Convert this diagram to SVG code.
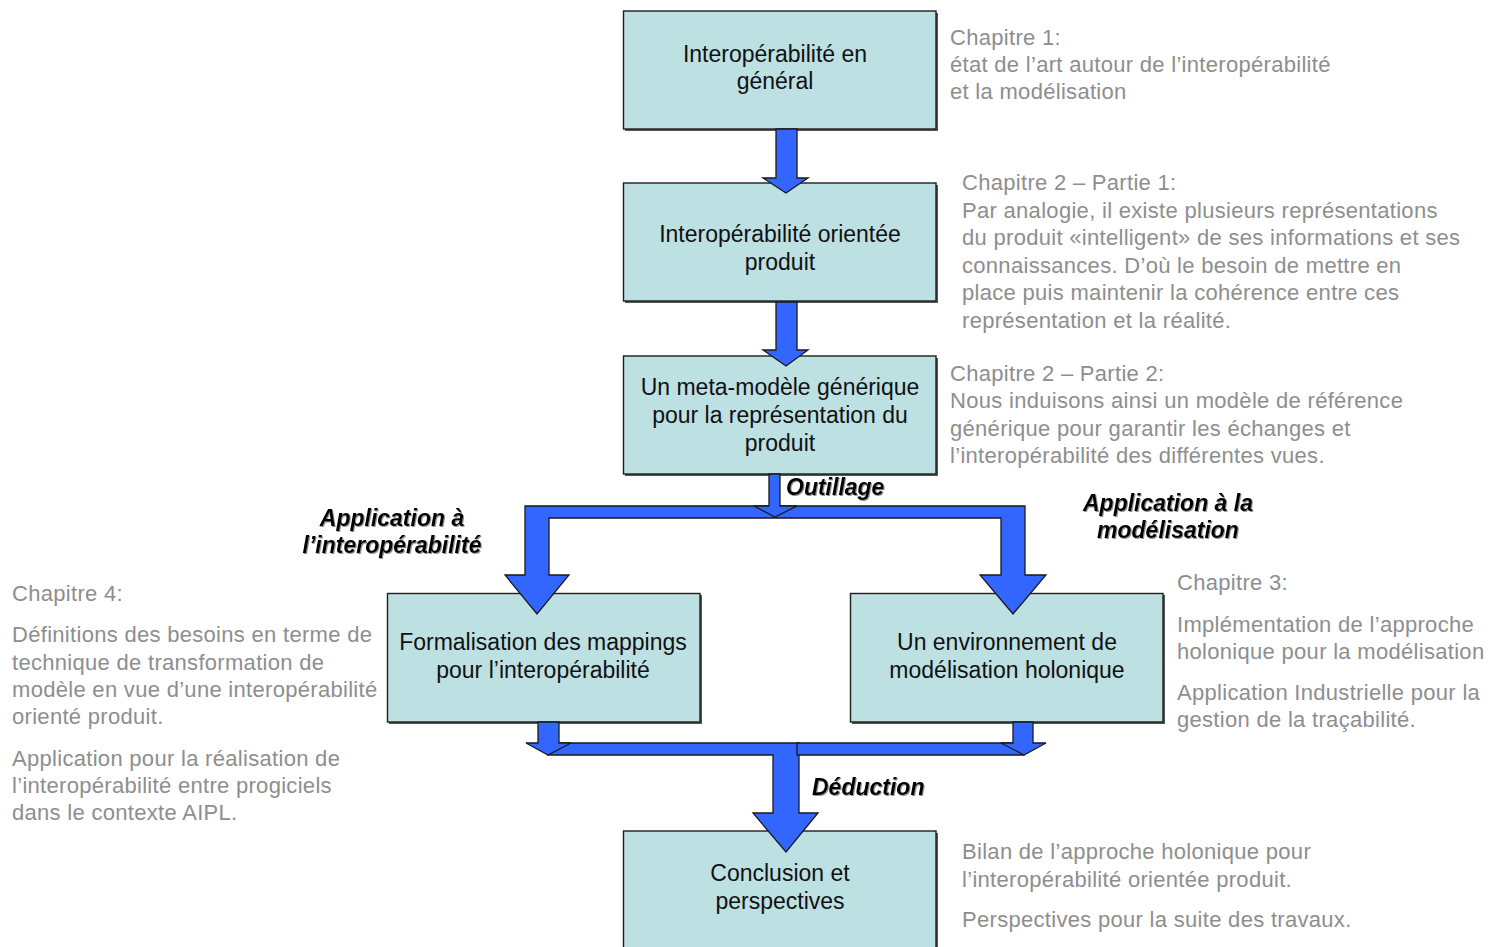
<svg xmlns="http://www.w3.org/2000/svg" width="1504" height="947" viewBox="0 0 1504 947">
  <defs>
    <style>
      .box { fill: #bde0e3; stroke: #1e1e1e; stroke-width: 1.4; }
      .shadow { fill: #555555; }
      .btxt { font-family: "Liberation Sans", Arial, sans-serif; font-size: 23px; fill: #111111; text-anchor: middle; }
      .note { font-family: "Liberation Sans", Arial, sans-serif; font-size: 22px; fill: #8e8e8e; letter-spacing: 0.3px; }
      .lbl { font-family: "Liberation Sans", Arial, sans-serif; font-size: 23px; font-weight: bold; font-style: italic; fill: #000000; }
      .arrow { fill: #3366ff; stroke: #1a1a1a; stroke-width: 1.3; stroke-linejoin: miter; }
    </style>
    <filter id="soft" x="-5%" y="-20%" width="110%" height="140%">
      <feDropShadow dx="1" dy="1" stdDeviation="0.6" flood-color="#777777" flood-opacity="0.8"/>
    </filter>
  </defs>

  <rect x="0" y="0" width="1504" height="947" fill="#ffffff"/>

  <!-- nodes -->
  <g id="n-general">
    <rect class="shadow" x="625" y="13" width="313" height="118"/>
    <rect class="box" x="623.5" y="11" width="312.5" height="118"/>
    <text class="btxt" x="775" y="62">Interopérabilité en</text>
    <text class="btxt" x="775" y="89">général</text>
  </g>
  <g id="n-produit">
    <rect class="shadow" x="625" y="185" width="313" height="118"/>
    <rect class="box" x="623.5" y="183" width="312.5" height="118"/>
    <text class="btxt" x="780" y="242">Interopérabilité orientée</text>
    <text class="btxt" x="780" y="270">produit</text>
  </g>
  <g id="n-metamodele">
    <rect class="shadow" x="625" y="358" width="313" height="118"/>
    <rect class="box" x="623.5" y="356" width="312.5" height="118"/>
    <text class="btxt" x="780" y="395">Un meta-modèle générique</text>
    <text class="btxt" x="780" y="423">pour la représentation du</text>
    <text class="btxt" x="780" y="451">produit</text>
  </g>
  <g id="n-mappings">
    <rect class="shadow" x="389" y="595" width="313" height="129"/>
    <rect class="box" x="387.5" y="593.5" width="312.5" height="128.5"/>
    <text class="btxt" x="543" y="650">Formalisation des mappings</text>
    <text class="btxt" x="543" y="678">pour l’interopérabilité</text>
  </g>
  <g id="n-holonique">
    <rect class="shadow" x="852" y="595" width="313" height="129"/>
    <rect class="box" x="850.5" y="593.5" width="312.5" height="128.5"/>
    <text class="btxt" x="1007" y="650">Un environnement de</text>
    <text class="btxt" x="1007" y="678">modélisation holonique</text>
  </g>
  <g id="n-conclusion">
    <rect class="shadow" x="625" y="833" width="313" height="130"/>
    <rect class="box" x="623.5" y="831" width="312.5" height="130"/>
    <text class="btxt" x="780" y="881">Conclusion et</text>
    <text class="btxt" x="780" y="909">perspectives</text>
  </g>

  <!-- connectors, drawn over the boxes so the arrow tips overlap them -->
  <g id="connectors">
    <polygon class="arrow" points="776,129 797,129 797,178 808,178 786,193 763,178 776,178"/>
    <polygon class="arrow" points="776,302 797,302 797,350 808,350 786,366 763,350 776,350"/>
    <!-- split bracket toward the two branches -->
    <polygon class="arrow" points="505,575 525,575 525,506 1025,506 1025,575 1046,575 1013,614 980,575 1001,575 1001,518 549,518 549,575 569,575 537,614"/>
    <polygon class="arrow" points="769,474 780,474 780,506 797,506 775,517 754,506 769,506"/>
    <!-- merge bar and deduction arrow -->
    <polygon class="arrow" points="548,743 799,743 799,813 818,813 786,852 753,813 773,813 773,755 548,755"/>
    <polygon class="arrow" points="797,743 1024,743 1024,755 797,755"/>
    <polygon class="arrow" points="538,722 559,722 559,743 571,743 548,755 526,743 538,743"/>
    <polygon class="arrow" points="1013,722 1033,722 1033,743 1046,743 1024,755 1001,743 1013,743"/>
  </g>

  <!-- arrow labels -->
  <g id="labels" filter="url(#soft)">
    <text class="lbl" x="786" y="495">Outillage</text>
    <text class="lbl" x="392" y="526" text-anchor="middle">Application à</text>
    <text class="lbl" x="392" y="553" text-anchor="middle">l’interopérabilité</text>
    <text class="lbl" x="1168" y="511" text-anchor="middle">Application à la</text>
    <text class="lbl" x="1168" y="538" text-anchor="middle">modélisation</text>
    <text class="lbl" x="812" y="795">Déduction</text>
  </g>

  <!-- chapter notes -->
  <g id="note-ch1">
    <text class="note" x="950" y="45">Chapitre 1:</text>
    <text class="note" x="950" y="72">état de l’art autour de l’interopérabilité</text>
    <text class="note" x="950" y="99">et la modélisation</text>
  </g>
  <g id="note-ch2-p1">
    <text class="note" x="962" y="190">Chapitre 2 – Partie 1:</text>
    <text class="note" x="962" y="218">Par analogie, il existe plusieurs représentations</text>
    <text class="note" x="962" y="245">du produit «intelligent» de ses informations et ses</text>
    <text class="note" x="962" y="273">connaissances. D’où le besoin de mettre en</text>
    <text class="note" x="962" y="300">place puis maintenir la cohérence entre ces</text>
    <text class="note" x="962" y="328">représentation et la réalité.</text>
  </g>
  <g id="note-ch2-p2">
    <text class="note" x="950" y="381">Chapitre 2 – Partie 2:</text>
    <text class="note" x="950" y="408">Nous induisons ainsi un modèle de référence</text>
    <text class="note" x="950" y="436">générique pour garantir les échanges et</text>
    <text class="note" x="950" y="463">l’interopérabilité des différentes vues.</text>
  </g>
  <g id="note-ch4">
    <text class="note" x="12" y="601">Chapitre 4:</text>
    <text class="note" x="12" y="642">Définitions des besoins en terme de</text>
    <text class="note" x="12" y="670">technique de transformation de</text>
    <text class="note" x="12" y="697">modèle en vue d’une interopérabilité</text>
    <text class="note" x="12" y="724">orienté produit.</text>
    <text class="note" x="12" y="766">Application pour la réalisation de</text>
    <text class="note" x="12" y="793">l’interopérabilité entre progiciels</text>
    <text class="note" x="12" y="820">dans le contexte AIPL.</text>
  </g>
  <g id="note-ch3">
    <text class="note" x="1177" y="590">Chapitre 3:</text>
    <text class="note" x="1177" y="632">Implémentation de l’approche</text>
    <text class="note" x="1177" y="659">holonique pour la modélisation</text>
    <text class="note" x="1177" y="700">Application Industrielle pour la</text>
    <text class="note" x="1177" y="727">gestion de la traçabilité.</text>
  </g>
  <g id="note-bilan">
    <text class="note" x="962" y="859">Bilan de l’approche holonique pour</text>
    <text class="note" x="962" y="887">l’interopérabilité orientée produit.</text>
    <text class="note" x="962" y="927">Perspectives pour la suite des travaux.</text>
  </g>
</svg>
